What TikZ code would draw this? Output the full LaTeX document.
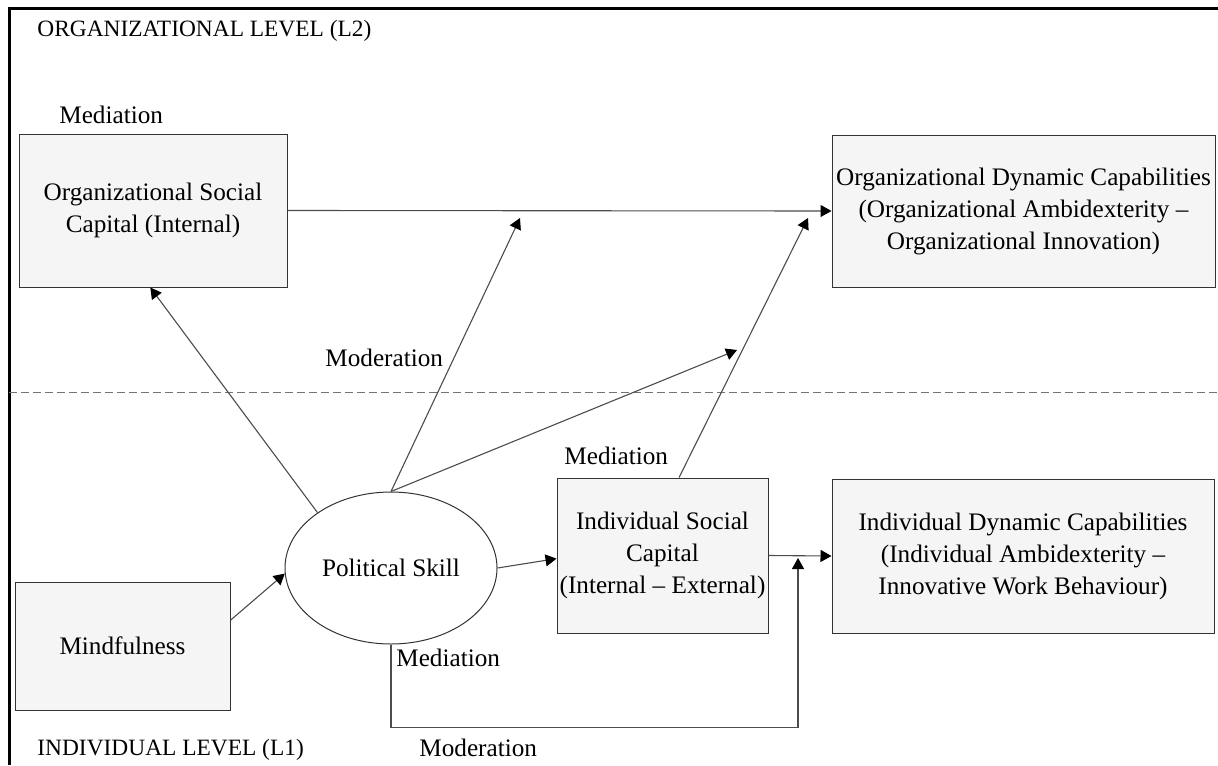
\documentclass[tikz,border=0pt]{standalone}
\usepackage{fontspec}
\setmainfont{Liberation Serif}
\usetikzlibrary{arrows.meta,shapes.geometric,calc}

\tikzset{
	box/.style={draw=black!80, fill=black!4, line width=0.5pt, inner sep=0pt, align=center, font=\fontsize{12.6}{16}\selectfont},
	lbl/.style={anchor=west, inner sep=0pt, font=\fontsize{12.6}{15}\selectfont},
	caps/.style={anchor=west, inner sep=0pt, font=\fontsize{11.7}{14}\selectfont},
	link/.style={draw=black!70, line width=0.55pt},
}

\begin{document}
\begin{tikzpicture}[x=0.5pt,y=-0.5pt,>={Triangle[length=5.5pt,width=6pt,color=black]}]
	\useasboundingbox (0,0) rectangle (1218,765);
	% The frame and the level border
	\draw[line width=1.5pt] (9,765) -- (9,9) -- (1218,9);
	\draw[black!55, line width=0.5pt, dash pattern=on 4pt off 2pt] (9,392) -- (1218,392);
	
	% The levels
	\node[caps] (lvltwo) at (37,31) {ORGANIZATIONAL LEVEL (L2)};
	\node[caps] (lvlone) at (37,750) {INDIVIDUAL LEVEL (L1)};
	
	% The boxes
	\node[box, minimum width=134pt, minimum height=76.5pt] (osc) at (153,210.5) {Organizational Social\\Capital (Internal)};
	\node[box, minimum width=191.5pt, minimum height=76pt] (odc) at (1023.5,211) {Organizational Dynamic Capabilities\\(Organizational Ambidexterity --\\Organizational Innovation)};
	\node[box, minimum width=105.5pt, minimum height=77.5pt] (isc) at (662.5,555.5) {Individual Social\\Capital\\(Internal -- External)};
	\node[box, minimum width=191pt, minimum height=77pt] (idc) at (1023,556) {Individual Dynamic Capabilities\\(Individual Ambidexterity --\\Innovative Work Behaviour)};
	\node[box, minimum width=107.5pt, minimum height=64pt] (mind) at (122.5,646) {Mindfulness};
	\node[box, ellipse, fill=white, minimum width=106pt, minimum height=76pt] (ps) at (391,568) {Political Skill};
	
	% The labels
	\node[lbl] (medtop) at (59,115) {Mediation};
	\node[lbl] (modmid) at (325,358) {Moderation};
	\node[lbl] (medmid) at (564,456) {Mediation};
	\node[lbl] (medlow) at (396,658) {Mediation};
	\node[lbl] (modlow) at (419,748) {Moderation};
	
	\coordinate (modA) at (520,218);
	\coordinate (modB) at (737,350);
	\coordinate (medA) at (808,218);
	\coordinate (modC) at (798,558);
	
	% The paths
	\draw[link,->] (osc.east) -- (odc.west);
	\draw[link,->] (ps.north) -- (modA);
	\draw[link,->] (ps.north) -- (modB);
	\draw[link,->] ($(isc.north west)!0.578!(isc.north east)$) -- (medA);
	\draw[link,->] (ps.143) -- ($(osc.south west)!0.49!(osc.south east)$);
	\draw[link,->] ($(mind.north east)!0.3!(mind.south east)$) -- (ps.183);
	\draw[link,->] (ps.east) -- ($(isc.north west)!0.52!(isc.south west)$);
	\draw[link,->] (isc.east) -- (idc.west);
	\draw[link,->] (ps.south) -- ++(0,83) -| (modC);
\end{tikzpicture}
\end{document}
